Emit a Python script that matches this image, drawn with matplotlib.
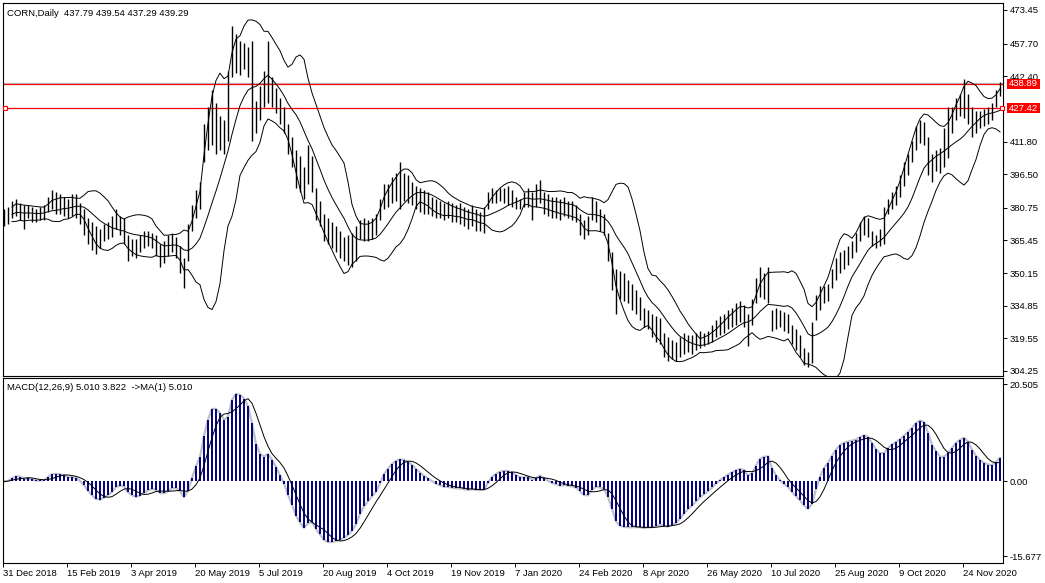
import matplotlib
matplotlib.use('Agg')
import matplotlib.pyplot as plt
from matplotlib.patches import Rectangle
import numpy as np
import pandas as pd

plt.rcParams['font.family'] = ['Liberation Sans', 'DejaVu Sans']

highs = [380, 381, 384, 385, 383, 382, 382, 381, 380, 381,
         382, 386, 389, 388, 387, 386, 385, 387, 387, 383,
         380, 376, 374, 372, 371, 373, 374, 377, 380, 377,
         376, 368, 366, 366, 368, 370, 370, 369, 368, 364,
         365, 368, 369, 367, 363, 357, 373, 382, 389, 393,
         420, 428, 436, 430, 424, 422, 445, 466, 462, 459,
         458, 456, 459, 431, 438, 445, 459, 442, 437, 432,
         428, 420, 414, 408, 405, 400, 410, 405, 390, 384,
         378, 376, 374, 372, 370, 367, 368, 369, 372, 375,
         376, 375, 376, 378, 385, 392, 392, 395, 397, 402,
         397, 396, 393, 391, 390, 389, 388, 386, 385, 384,
         383, 384, 383, 382, 383, 381, 380, 382, 380, 379,
         381, 388, 390, 389, 390, 390, 391, 389, 386, 385,
         388, 390, 388, 392, 394, 388, 387, 386, 386, 385,
         386, 384, 384, 382, 378, 375, 377, 386, 384, 380,
         378, 369, 360, 352, 351, 350, 347, 345, 342, 339,
         334, 333, 331, 330, 329, 322, 320, 319, 318, 320,
         322, 321, 321, 322, 323, 322, 323, 326, 328, 330,
         331, 333, 334, 336, 337, 335, 331, 338, 348, 353,
         350, 353, 333, 334, 333, 332, 331, 326, 324, 321,
         315, 313, 327, 340, 344, 344, 345, 352, 357, 360,
         361, 363, 365, 369, 374, 377, 376, 370, 368, 371,
         381, 385, 388, 391, 396, 402, 406, 412, 419, 422,
         421, 414, 406, 408, 409, 418, 428, 428, 432, 434,
         441, 434, 428, 426, 426, 427, 428, 430, 436, 439.5]
lows = [372, 373, 376, 377, 375, 371, 376, 374, 374, 375,
        375, 379, 380, 378, 378, 377, 376, 377, 376, 373,
        368, 364, 361, 359, 362, 365, 366, 367, 371, 368,
        364, 356, 358, 357, 360, 362, 363, 362, 358, 353,
        355, 358, 360, 357, 350, 343, 356, 370, 376, 380,
        402, 408, 410, 406, 408, 406, 412, 442, 444, 443,
        446, 442, 412, 416, 422, 428, 430, 428, 425, 420,
        416, 406, 400, 390, 388, 385, 392, 388, 375, 372,
        365, 364, 362, 360, 357, 356, 354, 353, 356, 366,
        365, 365, 366, 368, 375, 380, 381, 383, 384, 380,
        384, 383, 382, 380, 379, 378, 378, 377, 376, 376,
        375, 376, 374, 374, 373, 372, 371, 372, 370, 370,
        369, 380, 383, 383, 384, 383, 382, 381, 380, 380,
        381, 381, 375, 381, 383, 378, 377, 376, 376, 375,
        377, 376, 375, 374, 368, 366, 368, 375, 374, 370,
        368, 356, 342, 331, 338, 337, 336, 333, 331, 328,
        325, 324, 320, 318, 317, 311, 309, 310, 309, 311,
        312, 313, 312, 314, 315, 316, 317, 318, 320, 321,
        322, 324, 325, 326, 327, 325, 316, 326, 336, 339,
        338, 336, 323, 324, 325, 323, 322, 317, 314, 311,
        307, 306, 308, 328, 333, 336, 337, 343, 347, 350,
        352, 354, 357, 360, 365, 368, 367, 363, 362, 363,
        364, 378, 380, 382, 386, 391, 396, 402, 408, 411,
        410, 396, 393, 398, 397, 400, 404, 416, 422, 424,
        423, 420, 414, 416, 418, 419, 420, 422, 428, 433]

date_labels = ['31 Dec 2018', '15 Feb 2019', '3 Apr 2019', '20 May 2019', '5 Jul 2019',
               '20 Aug 2019', '4 Oct 2019', '19 Nov 2019', '7 Jan 2020', '24 Feb 2020',
               '8 Apr 2020', '26 May 2020', '10 Jul 2020', '25 Aug 2020', '9 Oct 2020',
               '24 Nov 2020']
price_ticks = [473.45, 457.70, 442.40, 411.80, 396.50, 380.75, 365.45, 350.15,
               334.85, 319.55, 304.25]
macd_ticks = [20.505, 0.0, -15.677]
last_ohlc = [437.79, 439.54, 437.29, 439.29]
macd_text = [5.010, 3.822, 5.010]
levels = [438.89, 427.42]

highs = np.array(highs, dtype=float)
lows = np.array(lows, dtype=float)
x = np.arange(len(highs))
mid = pd.Series((highs + lows) / 2)

# bollinger 20,2 (10 two-day bars)
bb_mid = mid.rolling(10, min_periods=3).mean()
bb_std = mid.rolling(10, min_periods=3).std(ddof=0)
bb_up = bb_mid + 2 * bb_std
bb_dn = bb_mid - 2 * bb_std

# macd 12,26,9
macd = mid.ewm(span=6, adjust=False).mean() - mid.ewm(span=13, adjust=False).mean()
signal = macd.rolling(5, min_periods=1).mean()

W, H = 1045, 583
fig = plt.figure(figsize=(W / 100, H / 100), dpi=100)
ax = fig.add_axes([3 / W, 1 - 375.5 / H, 1000 / W, 372.5 / H])
ax2 = fig.add_axes([3 / W, 1 - 562.5 / H, 1000 / W, 184.5 / H])

for a in (ax, ax2):
    a.set_xlim(-0.25, len(x) - 0.25)
    for s in a.spines.values():
        s.set_linewidth(0.8)
        s.set_color('black')
    a.yaxis.tick_right()
    a.tick_params(axis='y', direction='out', length=3, width=0.7, labelsize=6.8, pad=2)

# price panel
ax.set_ylim(302.14, 476.73)
ax.axhline(last_ohlc[3], color='#c0c0c0', lw=0.9, zorder=1)
for lv in levels:
    ax.axhline(lv, color='red', lw=0.9, zorder=1)
ax.vlines(x, lows, highs, color='black', lw=1.0, zorder=3)
ax.plot(x, bb_up, color='black', lw=0.7, zorder=2)
ax.plot(x, bb_mid, color='black', lw=0.7, zorder=2)
ax.plot(x, bb_dn, color='black', lw=0.7, zorder=2)
ax.plot([0.3, len(x) - 0.45], [levels[1], levels[1]], 's', ms=3.2, mfc='white',
        mec='red', mew=0.8, clip_on=False, zorder=4)
ax.set_yticks(price_ticks)
ax.set_yticklabels(['%.2f' % v for v in price_ticks])
ax.set_xticks([])

# red price labels on the right scale (10 px high, 33 px wide)
ytr = ax.get_yaxis_transform()
for lv in levels:
    ax.add_patch(Rectangle((1.0037, lv - 2.35), 0.033, 4.69, transform=ytr,
                           fc='red', ec='none', clip_on=False, zorder=5))
    ax.text(1.0037 + 0.0165, lv, '%.2f' % lv, transform=ytr, color='white',
            fontsize=6.8, va='center', ha='center', zorder=6, clip_on=False)
ax.text(0.004, 0.985, 'CORN,Daily  ' + ' '.join('%.2f' % v for v in last_ohlc),
        transform=ax.transAxes, fontsize=6.8, va='top', ha='left')

# macd panel
ax2.set_ylim(-17.04, 21.77)
ax2.plot(x, macd, color='#c0c0c0', lw=1.6, zorder=1)
ax2.vlines(x, 0, macd, color='#000080', lw=1.4, zorder=2)
ax2.plot(x, signal, color='black', lw=0.7, zorder=3)
ax2.set_yticks(macd_ticks)
ax2.set_yticklabels(['20.505', '0.00', '-15.677'])
ax2.set_xticks(np.arange(len(date_labels)) * 16 - 0.25)
ax2.set_xticklabels(date_labels, ha='left', fontsize=6.8)
ax2.tick_params(axis='x', direction='out', length=3, width=0.7, pad=2)
ax2.text(0.004, 0.975, 'MACD(12,26,9) %.3f %.3f  ->MA(1) %.3f' % tuple(macd_text),
         transform=ax2.transAxes, fontsize=6.8, va='top', ha='left')

fig.savefig('out.png', dpi=100)
